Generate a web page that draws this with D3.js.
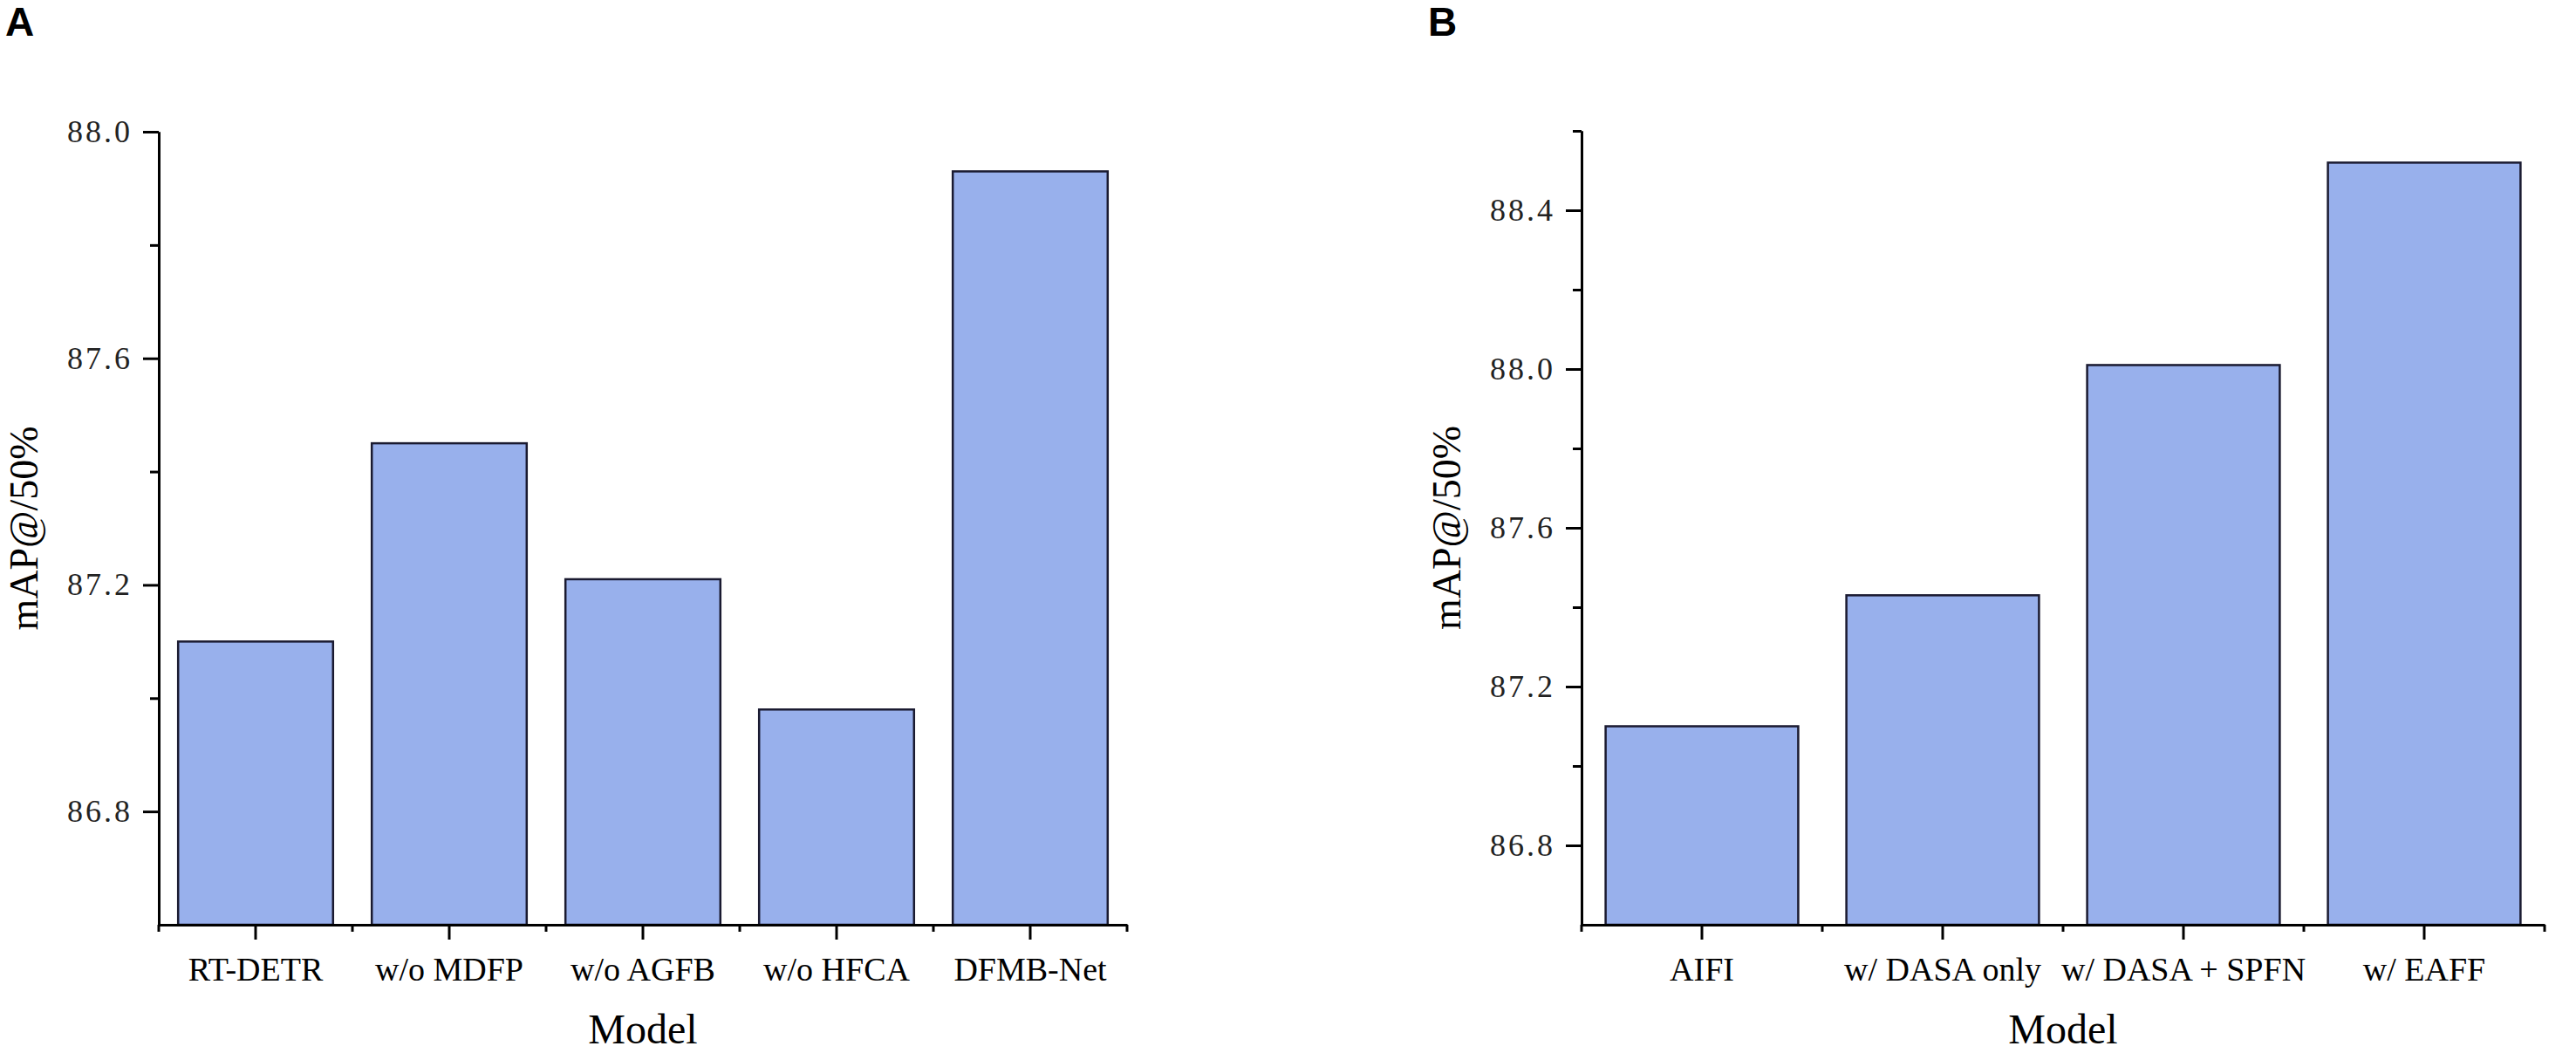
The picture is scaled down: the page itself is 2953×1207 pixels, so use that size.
<!DOCTYPE html>
<html>
<head>
<meta charset="utf-8">
<script src="https://cdn.jsdelivr.net/npm/d3@7"></script>
<style>
  body { margin: 0; background: white; }
  svg { display: block; }
</style>
</head>
<body>
<div class="chart"></div>
<script>
// panel A data
var modelsA = ['RT-DETR', 'w/o MDFP', 'w/o AGFB', 'w/o HFCA', 'DFMB-Net'];
var mapA = [87.10, 87.45, 87.21, 86.98, 87.93];
var yTicksA = [86.8, 87.2, 87.6, 88.0];
var yMinorA = [87.0, 87.4, 87.8];

// panel B data
var modelsB = ['AIFI', 'w/ DASA only', 'w/ DASA + SPFN', 'w/ EAFF'];
var mapB = [87.10, 87.43, 88.01, 88.52];
var yTicksB = [86.8, 87.2, 87.6, 88.0, 88.4];
var yMinorB = [87.0, 87.4, 87.8, 88.2, 88.6];

var width = 2953,
    height = 1207,
    barFill = '#98b0ec',
    serif = '"Liberation Serif", "Times New Roman", serif';

var svg = d3.select('.chart').append('svg')
    .attr('width', width)
    .attr('height', height)
    .style('background', 'white');

function drawPanel(cfg) {
    var g = svg.append('g');

    var x = d3.scaleBand()
        .domain(cfg.cats)
        .range([cfg.left, cfg.right])
        .paddingInner(0.2)
        .paddingOuter(0.1);

    var y = d3.scaleLinear()
        .domain(cfg.domain)
        .range([cfg.bottom, cfg.top]);

    // bars
    g.selectAll('rect.bar').data(cfg.vals)
        .enter().append('rect')
        .attr('class', 'bar')
        .attr('x', function(d, i) { return x(cfg.cats[i]); })
        .attr('width', x.bandwidth())
        .attr('y', function(d) { return y(d); })
        .attr('height', function(d) { return y(cfg.domain[0]) - y(d); })
        .style('fill', barFill)
        .style('stroke', '#1a1a30')
        .style('stroke-width', 2.5);

    // y axis, major then minor ticks
    var yAxis = g.append('g')
        .attr('transform', 'translate(' + cfg.left + ',0)')
        .call(d3.axisLeft(y).tickValues(cfg.yTicks)
            .tickFormat(d3.format('.1f'))
            .tickSize(18).tickSizeOuter(0).tickPadding(12));
    g.append('g')
        .attr('transform', 'translate(' + cfg.left + ',0)')
        .call(d3.axisLeft(y).tickValues(cfg.yMinor)
            .tickFormat('').tickSize(10).tickSizeOuter(0));

    // x axis: ticks at band centres, minor ticks at band edges
    var half = (x.step() - x.bandwidth()) / 2;
    var edges = cfg.cats.map(function(c) { return x(c) - half; });
    edges.push(x.range()[1]);

    var xAxis = g.append('g')
        .attr('transform', 'translate(0,' + cfg.bottom + ')')
        .call(d3.axisBottom(x).tickSize(17).tickSizeOuter(0).tickPadding(20));
    g.append('g')
        .attr('transform', 'translate(0,' + cfg.bottom + ')')
        .selectAll('line').data(edges)
        .enter().append('line')
        .attr('x1', function(d) { return d; })
        .attr('x2', function(d) { return d; })
        .attr('y1', 0)
        .attr('y2', 8)
        .style('stroke', 'black')
        .style('stroke-width', 3);

    g.selectAll('.domain, .tick line')
        .style('stroke', 'black')
        .style('stroke-width', 3);

    yAxis.selectAll('text')
        .style('font-family', serif)
        .style('font-size', '36px')
        .style('letter-spacing', '3px')
        .style('fill', '#222');

    xAxis.selectAll('text')
        .style('font-family', serif)
        .style('font-size', '38px')
        .style('fill', 'black');

    // axis titles
    g.append('text')
        .text('Model')
        .attr('x', (cfg.left + cfg.right) / 2)
        .attr('y', 1196)
        .attr('text-anchor', 'middle')
        .style('font-family', serif)
        .style('font-size', '48px');

    g.append('text')
        .text('mAP@/50%')
        .attr('transform', 'translate(' + (cfg.left - 139) + ',' + ((cfg.top + cfg.bottom) / 2) + ') rotate(-90)')
        .attr('text-anchor', 'middle')
        .style('font-family', serif)
        .style('font-size', '46px');

    // panel letter
    g.append('text')
        .text(cfg.letter)
        .attr('x', cfg.letterX)
        .attr('y', 41)
        .style('font-family', '"Liberation Sans", Arial, sans-serif')
        .style('font-weight', 'bold')
        .style('font-size', '46px');
}

drawPanel({
    cats: modelsA, vals: mapA, yTicks: yTicksA, yMinor: yMinorA,
    domain: [86.6, 88.0], left: 182, right: 1292, top: 151, bottom: 1060,
    letter: 'A', letterX: 6
});

drawPanel({
    cats: modelsB, vals: mapB, yTicks: yTicksB, yMinor: yMinorB,
    domain: [86.6, 88.6], left: 1813, right: 2917, top: 150, bottom: 1060,
    letter: 'B', letterX: 1637
});
</script>
</body>
</html>
